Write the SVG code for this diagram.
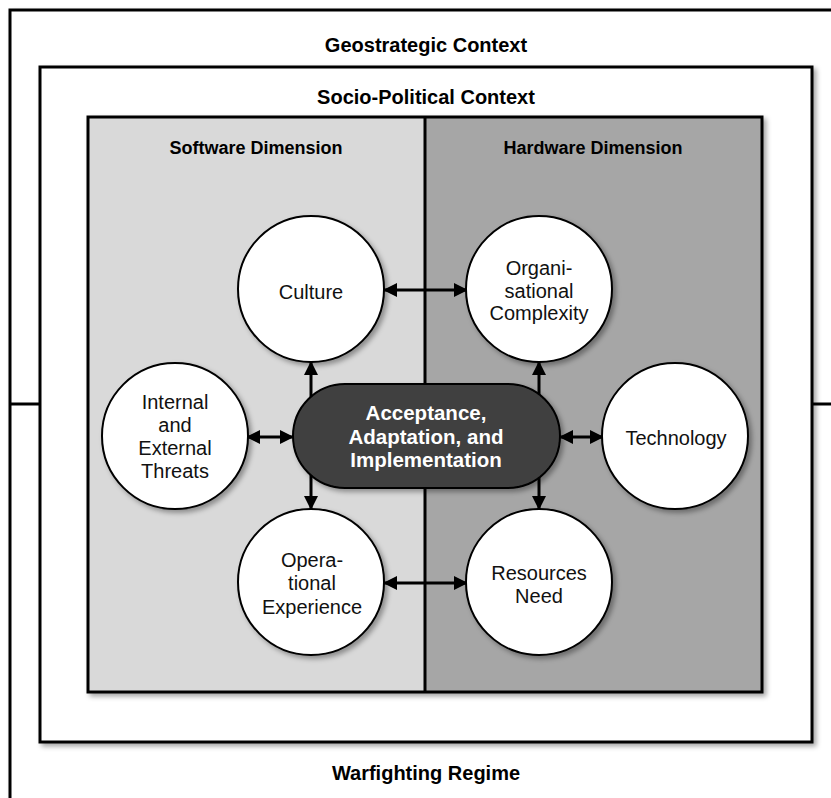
<svg xmlns="http://www.w3.org/2000/svg" width="831" height="798" viewBox="0 0 831 798">
<style>
.box{fill:#fff;stroke:#000;stroke-width:3}
.title{font-family:"Liberation Sans",Arial,sans-serif;font-weight:bold;font-size:18px;text-anchor:middle;fill:#000}
.otitle{font-size:20px}
.node circle{fill:#fff;stroke:#000;stroke-width:2}
.lbl{font-family:"Liberation Sans",Arial,sans-serif;font-size:20px;text-anchor:middle;fill:#111}
.plbl{font-family:"Liberation Sans",Arial,sans-serif;font-weight:bold;font-size:20.5px;text-anchor:middle;fill:#fff}
.conn line{stroke:#000;stroke-width:3;fill:none}
</style>
<defs>
<filter id="sh" x="-10%" y="-10%" width="130%" height="130%">
<feDropShadow dx="3" dy="3" stdDeviation="2.5" flood-color="#000" flood-opacity="0.35"/>
</filter>
<marker id="ah" viewBox="0 0 14 14" refX="13" refY="7" markerWidth="14" markerHeight="14" markerUnits="userSpaceOnUse" orient="auto-start-reverse">
<path d="M0,0 L14,7 L0,14 Z" fill="#000"/>
</marker>
</defs>
<rect width="831" height="798" fill="#fff"/>
<g id="geostrategic">
<rect class="box" x="10" y="10" width="832" height="800" filter="url(#sh)"/>
<text class="title otitle" x="426" y="52">Geostrategic Context</text>
<line x1="10" y1="404" x2="40" y2="404" stroke="#000" stroke-width="3"/>
<line x1="812" y1="404" x2="842" y2="404" stroke="#000" stroke-width="3"/>
<text class="title otitle" x="426" y="780">Warfighting Regime</text>
</g>
<g id="sociopolitical">
<rect class="box" x="40" y="67" width="772" height="675" filter="url(#sh)"/>
<text class="title otitle" x="426" y="104">Socio-Political Context</text>
</g>
<g id="dimensions">
<g filter="url(#sh)">
<rect x="88" y="117" width="337" height="575" fill="#d9d9d9"/>
<rect x="425" y="117" width="337" height="575" fill="#a6a6a6"/>
<rect x="88" y="117" width="674" height="575" fill="none" stroke="#000" stroke-width="3"/>
</g>
<line x1="425" y1="117" x2="425" y2="692" stroke="#000" stroke-width="3"/>
<text class="title" x="256" y="154">Software Dimension</text>
<text class="title" x="593" y="154">Hardware Dimension</text>
</g>
<g id="connectors" class="conn">
<line x1="384" y1="290" x2="467" y2="290" marker-start="url(#ah)" marker-end="url(#ah)"/>
<line x1="384" y1="583" x2="467" y2="583" marker-start="url(#ah)" marker-end="url(#ah)"/>
<line x1="247" y1="437" x2="293" y2="437" marker-start="url(#ah)" marker-end="url(#ah)"/>
<line x1="560" y1="437" x2="603" y2="437" marker-start="url(#ah)" marker-end="url(#ah)"/>
<line x1="311" y1="400" x2="311" y2="362" marker-end="url(#ah)"/>
<line x1="539" y1="400" x2="539" y2="362" marker-end="url(#ah)"/>
<line x1="311" y1="472" x2="311" y2="509" marker-end="url(#ah)"/>
<line x1="539" y1="472" x2="539" y2="509" marker-end="url(#ah)"/>
</g>
<g id="culture" class="node">
<circle cx="311" cy="289" r="73" filter="url(#sh)"/>
<text class="lbl" x="311" y="299">Culture</text>
</g>
<g id="organisational-complexity" class="node">
<circle cx="539" cy="289" r="73" filter="url(#sh)"/>
<text class="lbl" x="539" y="275">Organi-</text>
<text class="lbl" x="539" y="298">sational</text>
<text class="lbl" x="539" y="320">Complexity</text>
</g>
<g id="internal-external-threats" class="node">
<circle cx="175" cy="436" r="73" filter="url(#sh)"/>
<text class="lbl" x="175" y="409">Internal</text>
<text class="lbl" x="175" y="432">and</text>
<text class="lbl" x="175" y="455">External</text>
<text class="lbl" x="175" y="478">Threats</text>
</g>
<g id="technology" class="node">
<circle cx="675" cy="436" r="73" filter="url(#sh)"/>
<text class="lbl" x="676" y="445">Technology</text>
</g>
<g id="operational-experience" class="node">
<circle cx="311" cy="582" r="73" filter="url(#sh)"/>
<text class="lbl" x="312" y="567">Opera-</text>
<text class="lbl" x="312" y="590">tional</text>
<text class="lbl" x="312" y="614">Experience</text>
</g>
<g id="resources-need" class="node">
<circle cx="539" cy="582" r="73" filter="url(#sh)"/>
<text class="lbl" x="539" y="580">Resources</text>
<text class="lbl" x="539" y="603">Need</text>
</g>
<g id="acceptance" class="node">
<rect x="293" y="384" width="267" height="104" rx="52" ry="52" fill="#404040" stroke="#000" stroke-width="2" filter="url(#sh)"/>
<text class="plbl" x="426" y="420">Acceptance,</text>
<text class="plbl" x="426" y="444">Adaptation, and</text>
<text class="plbl" x="426" y="467">Implementation</text>
</g>
</svg>
